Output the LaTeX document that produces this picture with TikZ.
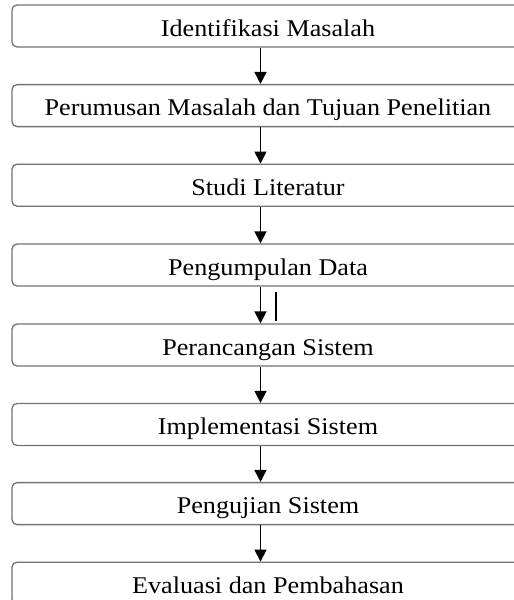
\documentclass[tikz,border=0pt]{standalone}
\usepackage{fontspec}
\setmainfont[FakeStretch=1.09]{Liberation Serif}
\usetikzlibrary{arrows.meta}
\begin{document}
\begin{tikzpicture}[x=1pt,y=-1pt,
  stepbox/.style={draw=black!55, line width=1.3pt, rounded corners=5pt,
    minimum width=512pt, minimum height=42pt, inner sep=0pt,
    text height=20pt, text depth=0pt,
    font=\fontsize{24}{28}\selectfont},
  arr/.style={draw=black, line width=1.6pt, -{Triangle[length=12pt,width=12pt]}}]
\clip (0,0) rectangle (514,600);
\fill[white] (0,0) rectangle (514,600);
\node[stepbox] (b1) at (268,26) {Identifikasi Masalah};
\node[stepbox] (b2) at (268,105.6) {Perumusan Masalah dan Tujuan Penelitian};
\node[stepbox] (b3) at (268,185.2) {Studi Literatur};
\node[stepbox] (b4) at (268,265) {Pengumpulan Data};
\node[stepbox] (b5) at (268,345) {Perancangan Sistem};
\node[stepbox] (b6) at (268,424.5) {Implementasi Sistem};
\node[stepbox] (b7) at (268,503.6) {Pengujian Sistem};
\node[stepbox] (b8) at (268,583.2) {Evaluasi dan Pembahasan};
\foreach \a/\b in {b1/b2,b2/b3,b3/b4,b4/b5,b5/b6,b6/b7,b7/b8}{
  \draw[arr] ([xshift=-7.5pt]\a.south) -- ([xshift=-7.5pt]\b.north);
}
\coordinate (t1) at (276,292);
\coordinate (t2) at (276,321);
\draw[line width=1.5pt] (t1) -- (t2);
\end{tikzpicture}
\end{document}
